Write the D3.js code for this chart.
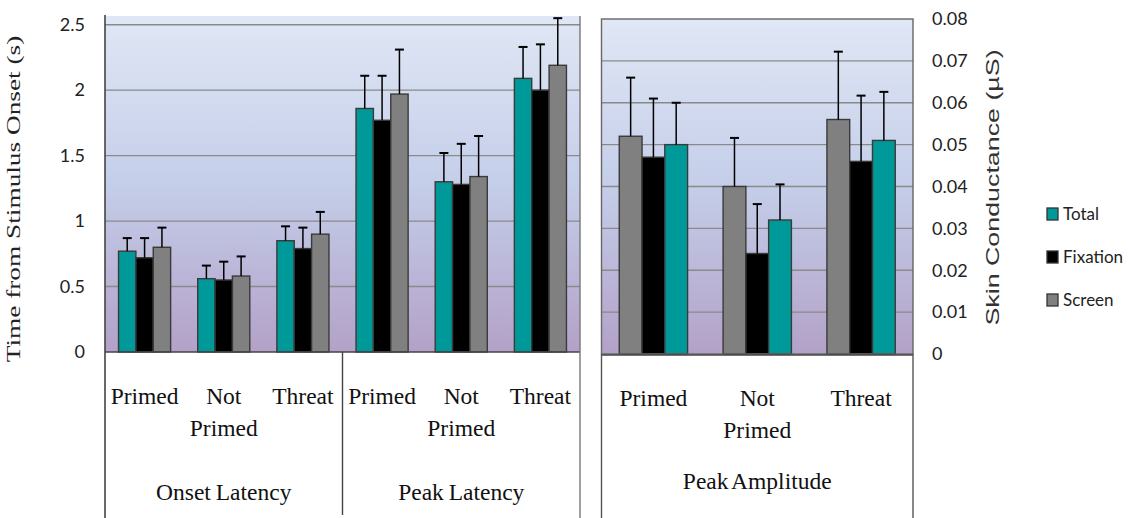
<!DOCTYPE html>
<html>
<head>
<meta charset="utf-8">
<script src="https://cdn.jsdelivr.net/npm/d3@7"></script>
<style>
  html, body { margin: 0; padding: 0; background: #fff; }
  svg { display: block; }
</style>
</head>
<body>
<svg id="chart" width="1129" height="518"></svg>
<script>
// ---- data ----
const conditions = ["Primed", "Not Primed", "Threat"];
const latencyMeasures = ["Onset Latency", "Peak Latency"];
const amplitudeMeasure = "Peak Amplitude";
const seriesNames = ["Total", "Fixation", "Screen"];

// latency means (s) and standard errors
const onsetTotal = [0.77, 0.56, 0.85];
const onsetTotalErr = [0.10, 0.10, 0.11];
const onsetFixation = [0.72, 0.55, 0.79];
const onsetFixationErr = [0.15, 0.14, 0.16];
const onsetScreen = [0.80, 0.58, 0.90];
const onsetScreenErr = [0.15, 0.15, 0.17];

const peakTotal = [1.86, 1.30, 2.09];
const peakTotalErr = [0.25, 0.22, 0.24];
const peakFixation = [1.77, 1.28, 2.00];
const peakFixationErr = [0.34, 0.31, 0.35];
const peakScreen = [1.97, 1.34, 2.19];
const peakScreenErr = [0.34, 0.31, 0.36];

// skin conductance peak amplitude (µS) and standard errors
const ampTotal = [0.050, 0.032, 0.051];
const ampTotalErr = [0.010, 0.0085, 0.0116];
const ampFixation = [0.047, 0.024, 0.046];
const ampFixationErr = [0.014, 0.0118, 0.0157];
const ampScreen = [0.052, 0.040, 0.056];
const ampScreenErr = [0.014, 0.0116, 0.0162];

const latencyTicks = [0, 0.5, 1, 1.5, 2, 2.5];
const latencyTickLabels = ["0", "0.5", "1", "1.5", "2", "2.5"];
const amplitudeTicks = [0, 0.01, 0.02, 0.03, 0.04, 0.05, 0.06, 0.07, 0.08];
const amplitudeTickLabels = ["0", "0.01", "0.02", "0.03", "0.04", "0.05", "0.06", "0.07", "0.08"];

const colors = { Total: "#009999", Fixation: "#000000", Screen: "#808080" };

// ---- build tables ----
const latencyValues = {
  "Onset Latency": { Total: [onsetTotal, onsetTotalErr], Fixation: [onsetFixation, onsetFixationErr], Screen: [onsetScreen, onsetScreenErr] },
  "Peak Latency": { Total: [peakTotal, peakTotalErr], Fixation: [peakFixation, peakFixationErr], Screen: [peakScreen, peakScreenErr] }
};
const latencyCats = [];
latencyMeasures.forEach(m => conditions.forEach(c => latencyCats.push(m + "|" + c)));
const latencyBars = [];
latencyMeasures.forEach(m => conditions.forEach((c, i) => seriesNames.forEach(s => {
  latencyBars.push({ cat: m + "|" + c, series: s, value: latencyValues[m][s][0][i], err: latencyValues[m][s][1][i] });
})));

const ampSeriesOrder = ["Screen", "Fixation", "Total"];
const ampValues = { Total: [ampTotal, ampTotalErr], Fixation: [ampFixation, ampFixationErr], Screen: [ampScreen, ampScreenErr] };
const ampBars = [];
conditions.forEach((c, i) => ampSeriesOrder.forEach(s => {
  ampBars.push({ cat: c, series: s, value: ampValues[s][0][i], err: ampValues[s][1][i] });
}));

// ---- layout ----
const svg = d3.select("#chart");
const L = { x0: 105, x1: 580, top: 16, base: 352, yTop: 24.7, bottom: 518 };
const R = { x0: 601.5, x1: 913, top: 19, base: 354, bottom: 518 };

const defs = svg.append("defs");
const grad = defs.append("linearGradient").attr("id", "plotFill")
  .attr("x1", 0).attr("y1", 0).attr("x2", 0).attr("y2", 1);
grad.append("stop").attr("offset", "0%").attr("stop-color", "#e0e7f5");
grad.append("stop").attr("offset", "50%").attr("stop-color", "#c4cee9");
grad.append("stop").attr("offset", "100%").attr("stop-color", "#b3a1c8");

// scales
const xL = d3.scaleBand().domain(latencyCats).range([L.x0, L.x1]).padding(0);
const xLs = d3.scaleBand().domain(seriesNames).range([0, xL.bandwidth()]).paddingInner(0).paddingOuter(0.78);
const yL = d3.scaleLinear().domain([0, 2.5]).range([L.base, L.yTop]);

const xR = d3.scaleBand().domain(conditions).range([R.x0, R.x1]).padding(0);
const xRs = d3.scaleBand().domain(ampSeriesOrder).range([0, xR.bandwidth()]).paddingInner(0).paddingOuter(0.78);
const yR = d3.scaleLinear().domain([0, 0.08]).range([R.base, R.top]);

// ---- left panel (latency) ----
svg.append("rect").attr("x", L.x0).attr("y", L.top).attr("width", L.x1 - L.x0).attr("height", L.base - L.top)
  .attr("fill", "url(#plotFill)");

svg.append("g").selectAll("line").data(latencyTicks.filter(t => t > 0)).join("line")
  .attr("x1", L.x0).attr("x2", L.x1).attr("y1", d => yL(d)).attr("y2", d => yL(d))
  .attr("stroke", "#8a8a8a").attr("stroke-width", 1.4);

function drawBars(g, bars, x, xs, y) {
  g.selectAll("rect.bar").data(bars).join("rect").attr("class", "bar")
    .attr("x", d => x(d.cat) + xs(d.series))
    .attr("y", d => y(d.value))
    .attr("width", xs.bandwidth())
    .attr("height", d => y(0) - y(d.value))
    .attr("fill", d => colors[d.series])
    .attr("stroke", "#3a3a3a").attr("stroke-width", 1.4);
  const eb = g.selectAll("g.err").data(bars).join("g").attr("class", "err")
    .attr("stroke", "#000").attr("stroke-width", 1.5);
  eb.append("line")
    .attr("x1", d => x(d.cat) + xs(d.series) + xs.bandwidth() / 2)
    .attr("x2", d => x(d.cat) + xs(d.series) + xs.bandwidth() / 2)
    .attr("y1", d => y(d.value)).attr("y2", d => y(d.value + d.err));
  eb.append("line")
    .attr("x1", d => x(d.cat) + xs(d.series) + xs.bandwidth() / 2 - 4.5)
    .attr("x2", d => x(d.cat) + xs(d.series) + xs.bandwidth() / 2 + 4.5)
    .attr("y1", d => y(d.value + d.err)).attr("y2", d => y(d.value + d.err))
    .attr("stroke-width", 2);
}
drawBars(svg.append("g"), latencyBars, xL, xLs, yL);

// frame lines of left panel
svg.append("line").attr("x1", L.x0).attr("x2", L.x1).attr("y1", L.base).attr("y2", L.base)
  .attr("stroke", "#444").attr("stroke-width", 1.5);
svg.append("line").attr("x1", L.x0).attr("x2", L.x0).attr("y1", L.top - 1).attr("y2", L.bottom)
  .attr("stroke", "#444").attr("stroke-width", 1.6);
svg.append("line").attr("x1", L.x1).attr("x2", L.x1).attr("y1", L.top).attr("y2", L.bottom)
  .attr("stroke", "#777").attr("stroke-width", 1.4);
const divX = xL(latencyMeasures[1] + "|" + conditions[0]);
svg.append("line").attr("x1", divX).attr("x2", divX).attr("y1", L.base).attr("y2", 515)
  .attr("stroke", "#444").attr("stroke-width", 1.4);

// left axis
const axL = svg.append("g").attr("transform", `translate(${L.x0},0)`)
  .call(d3.axisLeft(yL).tickValues(latencyTicks).tickSize(0).tickPadding(20)
    .tickFormat((d, i) => latencyTickLabels[i]));
axL.select(".domain").remove();
axL.selectAll("text").attr("font-family", "Lato, 'Open Sans', sans-serif").attr("font-size", 18).attr("fill", "#222");

svg.append("text").attr("transform", "translate(20,199) scale(1,1.4) rotate(-90)")
  .attr("text-anchor", "middle").attr("font-family", "'Liberation Serif', 'Times New Roman', serif")
  .attr("font-size", 19.5).attr("fill", "#222").text("Time from Stimulus Onset (s)");

// ---- right panel (amplitude) ----
svg.append("rect").attr("x", R.x0).attr("y", R.top).attr("width", R.x1 - R.x0).attr("height", R.base - R.top)
  .attr("fill", "url(#plotFill)");
svg.append("g").selectAll("line").data(amplitudeTicks.filter(t => t > 0 && t < 0.08)).join("line")
  .attr("x1", R.x0).attr("x2", R.x1).attr("y1", d => yR(d)).attr("y2", d => yR(d))
  .attr("stroke", "#8a8a8a").attr("stroke-width", 1.4);
drawBars(svg.append("g"), ampBars, xR, xRs, yR);
svg.append("rect").attr("x", R.x0).attr("y", R.top).attr("width", R.x1 - R.x0).attr("height", R.base - R.top)
  .attr("fill", "none").attr("stroke", "#666").attr("stroke-width", 1.4);
svg.append("line").attr("x1", R.x0).attr("x2", R.x1).attr("y1", R.base + 1).attr("y2", R.base + 1)
  .attr("stroke", "#444").attr("stroke-width", 1.4);
[R.x0, R.x1].forEach(xx => svg.append("line").attr("x1", xx).attr("x2", xx).attr("y1", R.base).attr("y2", R.bottom)
  .attr("stroke", "#555").attr("stroke-width", 1.4));

const axR = svg.append("g").attr("transform", `translate(${R.x1},0)`)
  .call(d3.axisRight(yR).tickValues(amplitudeTicks).tickSize(0).tickPadding(19)
    .tickFormat((d, i) => amplitudeTickLabels[i]));
axR.select(".domain").remove();
axR.selectAll("text").attr("font-family", "Lato, 'Open Sans', sans-serif").attr("font-size", 18).attr("fill", "#222");

svg.append("text").attr("transform", "translate(999,187.5) scale(1,1.49) rotate(-90)")
  .attr("text-anchor", "middle").attr("font-family", "'Liberation Sans', Arial, sans-serif")
  .attr("font-size", 18).attr("fill", "#333").text("Skin Conductance (µS)");

// ---- category labels ----
const serif = "'Liberation Serif', 'Times New Roman', serif";
function catLabel(cx, c, y1, y2) {
  const words = c.split(" ");
  const t = svg.append("text").attr("text-anchor", "middle").attr("font-family", serif)
    .attr("font-size", 23.5).attr("fill", "#111");
  t.append("tspan").attr("x", cx).attr("y", y1).text(words[0]);
  if (words.length > 1) t.append("tspan").attr("x", cx).attr("y", y2).text(words[1]);
}
latencyCats.forEach(k => {
  const c = k.split("|")[1];
  catLabel(xL(k) + xL.bandwidth() / 2, c, 404, 436);
});
latencyMeasures.forEach((m, i) => {
  const a = xL(m + "|" + conditions[0]);
  const b = xL(m + "|" + conditions[2]) + xL.bandwidth();
  svg.append("text").attr("x", (a + b) / 2).attr("y", 500).attr("text-anchor", "middle")
    .attr("font-family", serif).attr("font-size", 23.5).attr("fill", "#111").attr("word-spacing", -1).text(m);
});
conditions.forEach(c => catLabel(xR(c) + xR.bandwidth() / 2, c, 406, 438));
svg.append("text").attr("x", (R.x0 + R.x1) / 2).attr("y", 489).attr("text-anchor", "middle")
  .attr("font-family", serif).attr("font-size", 23.5).attr("fill", "#111").attr("word-spacing", -2).text(amplitudeMeasure);

// ---- legend ----
const leg = svg.append("g").attr("transform", "translate(1047,208)");
const li = leg.selectAll("g").data(seriesNames).join("g").attr("transform", (d, i) => `translate(0,${i * 43})`);
li.append("rect").attr("width", 11).attr("height", 12).attr("fill", d => colors[d])
  .attr("stroke", "#333").attr("stroke-width", 1.3);
li.append("text").attr("x", 16).attr("y", 12).attr("font-family", "Lato, 'Open Sans', sans-serif")
  .attr("font-size", 17).attr("fill", "#222").text(d => d);
</script>
</body>
</html>
